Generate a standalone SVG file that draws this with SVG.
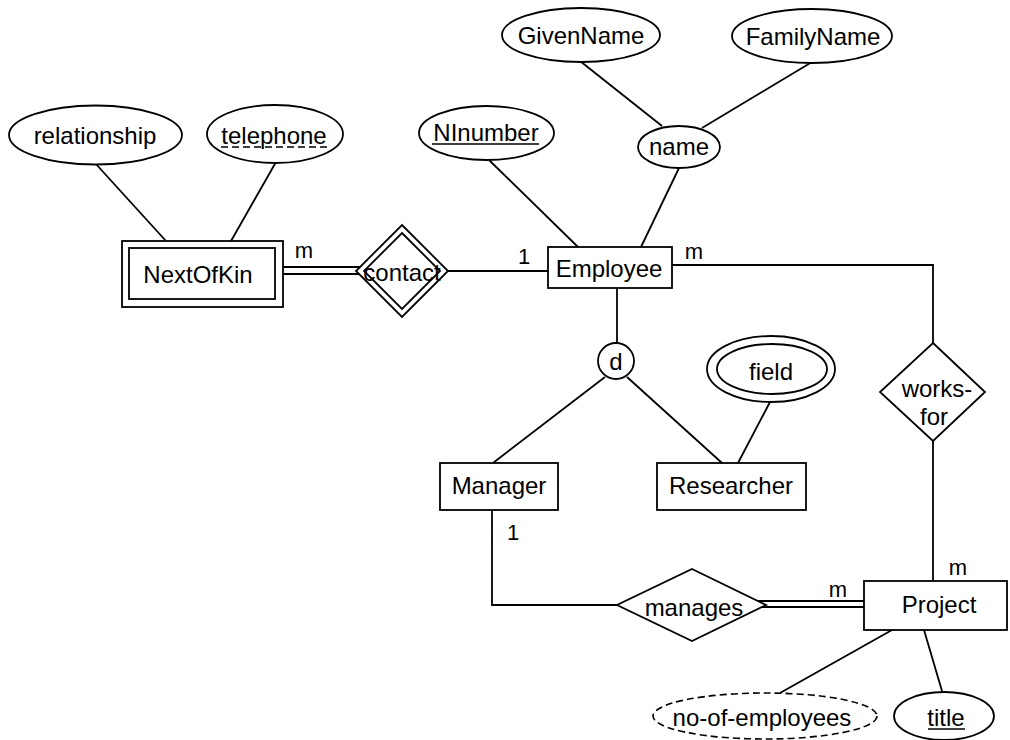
<svg xmlns="http://www.w3.org/2000/svg" width="1010" height="740" viewBox="0 0 1010 740">
<style>
.s{fill:#fff;stroke:#000;stroke-width:1.8}
.l{fill:none;stroke:#000;stroke-width:1.8}
.d{fill:#fff;stroke:#000;stroke-width:1.6;stroke-dasharray:7,4}
text{font-family:"Liberation Sans",Arial,sans-serif;font-size:24px;fill:#000;text-anchor:middle}
.c{font-size:22px}
</style>
<rect width="1010" height="740" fill="#fff"/>
<g id="connectors">
<line class="l" x1="95" y1="163" x2="166" y2="241"/>
<line class="l" x1="276" y1="162" x2="231" y2="241"/>
<line class="l" x1="283" y1="267" x2="362" y2="267"/>
<line class="l" x1="283" y1="274" x2="362" y2="274"/>
<line class="l" x1="448" y1="271" x2="548" y2="271"/>
<line class="l" x1="489" y1="160" x2="578" y2="247"/>
<line class="l" x1="679" y1="168" x2="641" y2="247"/>
<line class="l" x1="580" y1="61" x2="662" y2="126"/>
<line class="l" x1="812" y1="62" x2="702" y2="128"/>
<polyline class="l" points="672,265 933,265 933,343"/>
<line class="l" x1="933" y1="441" x2="933" y2="581"/>
<line class="l" x1="617" y1="288" x2="617" y2="343"/>
<line class="l" x1="605" y1="377" x2="493" y2="463"/>
<line class="l" x1="627" y1="377" x2="722" y2="463"/>
<line class="l" x1="770" y1="402" x2="738" y2="463"/>
<polyline class="l" points="492,510 492,605 617,605"/>
<line class="l" x1="758" y1="601" x2="864" y2="601"/>
<line class="l" x1="758" y1="607" x2="864" y2="607"/>
<line class="l" x1="892" y1="630" x2="780" y2="693"/>
<line class="l" x1="924" y1="630" x2="942" y2="691"/>
</g>
<g id="relationship"><ellipse class="s" cx="95.5" cy="135" rx="86.5" ry="29.5"/><text x="95" y="144">relationship</text></g>
<g id="telephone"><ellipse class="s" cx="275" cy="134" rx="68" ry="29"/><text x="274" y="144">telephone</text><line x1="221" y1="147" x2="328" y2="147" stroke="#000" stroke-width="1.5" stroke-dasharray="7,4"/></g>
<g id="NInumber"><ellipse class="s" cx="486.5" cy="133" rx="67.5" ry="27"/><text x="486" y="141">NInumber</text><line x1="432" y1="144" x2="539" y2="144" stroke="#000" stroke-width="1.5"/></g>
<g id="GivenName"><ellipse class="s" cx="581" cy="35" rx="79" ry="27"/><text x="581" y="44">GivenName</text></g>
<g id="FamilyName"><ellipse class="s" cx="812" cy="36" rx="80" ry="27"/><text x="813" y="45">FamilyName</text></g>
<g id="name"><ellipse class="s" cx="679" cy="147" rx="41" ry="21"/><text x="679" y="155">name</text></g>
<g id="NextOfKin"><rect class="s" x="122" y="241" width="161" height="66"/><rect class="s" x="129" y="248" width="146" height="51"/><text x="198" y="283">NextOfKin</text></g>
<g id="contact"><polygon class="s" points="402,225 448,271 402,317 356,271"/><polygon class="s" points="402,233 440,271 402,309 364,271"/><text x="402" y="281">contact</text></g>
<g id="Employee"><rect class="s" x="548" y="247" width="124" height="41"/><text x="609" y="277">Employee</text></g>
<g id="d"><circle class="s" cx="616" cy="361" r="18"/><text x="616" y="370">d</text></g>
<g id="Manager"><rect class="s" x="440" y="463" width="118" height="47"/><text x="499" y="494">Manager</text></g>
<g id="Researcher"><rect class="s" x="657" y="463" width="149" height="47"/><text x="731" y="494">Researcher</text></g>
<g id="field"><ellipse class="s" cx="771" cy="369" rx="64" ry="33"/><ellipse class="s" cx="772" cy="369" rx="55" ry="25"/><text x="771" y="380">field</text></g>
<g id="works-for"><polygon class="s" points="933,343 985,392 933,441 880,392"/><text x="937" y="397">works-</text><text x="934" y="425">for</text></g>
<g id="manages"><polygon class="s" points="692,569 766,605 692,641 617,605"/><text x="694" y="616">manages</text></g>
<g id="Project"><rect class="s" x="864" y="581" width="143" height="49"/><text x="939" y="613">Project</text></g>
<g id="no-of-employees"><ellipse class="d" cx="765" cy="716" rx="112" ry="23"/><text x="762" y="726">no-of-employees</text></g>
<g id="title"><ellipse class="s" cx="944" cy="716" rx="50" ry="24"/><text x="946" y="726">title</text><line x1="928" y1="729" x2="965" y2="729" stroke="#000" stroke-width="1.5"/></g>
<g id="labels">
<text class="c" x="304" y="258">m</text>
<text class="c" x="524" y="264">1</text>
<text class="c" x="694" y="259">m</text>
<text class="c" x="513" y="540">1</text>
<text class="c" x="838" y="597">m</text>
<text class="c" x="958" y="575">m</text>
</g>
</svg>
